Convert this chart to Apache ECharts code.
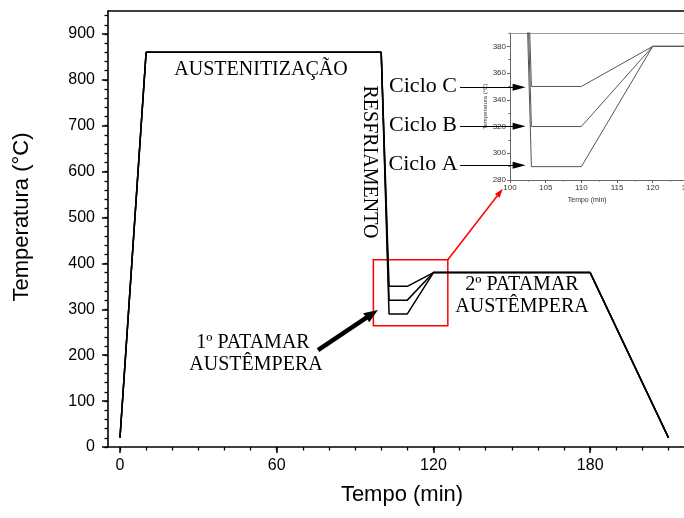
<!DOCTYPE html>
<html><head><meta charset="utf-8">
<script src="https://cdn.jsdelivr.net/npm/echarts@6/dist/echarts.min.js"></script>
<style>html,body{margin:0;padding:0;background:#fff}#c{width:684px;height:518px}</style>
</head><body><div id="c"></div>
<script>
// ---- data (time in minutes, temperature in °C) ----
const timeMin    = [0, 10, 100, 103, 110, 120, 180, 210];
const tempCicloA = [20, 860, 860, 290, 290, 380, 380, 20];
const tempCicloB = [20, 860, 860, 320, 320, 380, 380, 20];
const tempCicloC = [20, 860, 860, 350, 350, 380, 380, 20];

// ---- tick labels ----
const xMajorMain  = [0, 60, 120, 180];
const xMinorMain  = [0, 10, 20, 30, 40, 50, 60, 70, 80, 90, 100, 110, 120, 130, 140, 150, 160, 170, 180, 190, 200, 210, 220];
const yMajorMain  = [0, 100, 200, 300, 400, 500, 600, 700, 800, 900];
const yMinorMain  = [0, 20, 40, 60, 80, 100, 120, 140, 160, 180, 200, 220, 240, 260, 280, 300, 320, 340, 360, 380, 400, 420, 440, 460, 480, 500, 520, 540, 560, 580, 600, 620, 640, 660, 680, 700, 720, 740, 760, 780, 800, 820, 840, 860, 880, 900, 920, 940];
const xMajorInset = [100, 105, 110, 115, 120, 125];
const xMinorInset = [100, 102.5, 105, 107.5, 110, 112.5, 115, 117.5, 120, 122.5, 125];
const yMajorInset = [280, 300, 320, 340, 360, 380];
const yMinorInset = [280, 290, 300, 310, 320, 330, 340, 350, 360, 370, 380, 390];

// ---- annotations (data coordinates of the main chart) ----
const zoomBox      = [[97, 408], [125.5, 264]];
const zoomArrow    = [[125.5, 408], [145.5, 555]];
const patamarArrow = [[75.8, 211], [96.5, 290]];
const cicloArrowsT = [614, 699, 784];
const cicloArrowX  = [130.2, 152.8];

const pts = t => timeMin.map((x, i) => [x, t[i]]);
const serif = '"Liberation Serif", "Times New Roman", serif';
const sans = '"Liberation Sans", Arial, sans-serif';

const chart = echarts.init(document.getElementById('c'), null, {renderer: 'canvas'});

const mainLine = {type: 'line', xAxisIndex: 0, yAxisIndex: 0, symbol: 'none', silent: true,
  lineStyle: {color: '#000', width: 1.5}, animation: false, z: 3};
const insetLine = {type: 'line', xAxisIndex: 3, yAxisIndex: 2, symbol: 'none', silent: true, clip: true,
  lineStyle: {color: '#555', width: 1}, animation: false, z: 3};

const option = {
  animation: false,
  backgroundColor: '#fff',
  grid: [
    {left: 108, top: 11, width: 612, height: 436, outerBoundsMode: 'none', containLabel: false},
    {left: 510, top: 33, width: 178.4, height: 147, outerBoundsMode: 'none', containLabel: false}
  ],
  xAxis: [
    {gridIndex: 0, type: 'value', min: -4.59, max: 229.7, position: 'bottom',
     axisLine: {onZero: false, lineStyle: {color: '#000', width: 1.6}},
     axisTick: {customValues: xMajorMain, length: 6, lineStyle: {color: '#000', width: 1.5}},
     axisLabel: {customValues: xMajorMain, margin: 11, color: '#000', fontSize: 16, fontFamily: sans},
     splitLine: {show: false},
     name: 'Tempo (min)', nameLocation: 'middle', nameGap: 37,
     nameTextStyle: {color: '#000', fontSize: 22, fontFamily: sans, padding: [0, 24, 0, 0]}},
    {gridIndex: 0, type: 'value', min: -4.59, max: 229.7, position: 'bottom',
     axisLine: {show: false, onZero: false},
     axisTick: {customValues: xMinorMain, length: 3.5, lineStyle: {color: '#000', width: 1.3}},
     axisLabel: {show: false}, splitLine: {show: false}},
    {gridIndex: 0, type: 'value', min: -4.59, max: 229.7, position: 'top',
     axisLine: {onZero: false, lineStyle: {color: '#000', width: 1.6}},
     axisTick: {show: false}, axisLabel: {show: false}, splitLine: {show: false}},
    {gridIndex: 1, type: 'value', min: 100, max: 125, position: 'bottom',
     axisLine: {onZero: false, lineStyle: {color: '#666', width: 1}},
     axisTick: {customValues: xMajorInset, length: 3, lineStyle: {color: '#666', width: 1}},
     axisLabel: {customValues: xMajorInset, margin: 4, color: '#333', fontSize: 8, fontFamily: sans},
     splitLine: {show: false},
     name: 'Tempo (min)', nameLocation: 'middle', nameGap: 17,
     nameTextStyle: {color: '#333', fontSize: 7, fontFamily: sans, padding: [0, 24, 0, 0]}},
    {gridIndex: 1, type: 'value', min: 100, max: 125, position: 'bottom',
     axisLine: {show: false, onZero: false},
     axisTick: {customValues: xMinorInset, length: 1.5, lineStyle: {color: '#666', width: 1}},
     axisLabel: {show: false}, splitLine: {show: false}},
    {gridIndex: 1, type: 'value', min: 100, max: 125, position: 'top',
     axisLine: {onZero: false, lineStyle: {color: '#999', width: 1}},
     axisTick: {show: false}, axisLabel: {show: false}, splitLine: {show: false}}
  ],
  yAxis: [
    {gridIndex: 0, type: 'value', min: 0, max: 950, position: 'left',
     axisLine: {onZero: false, lineStyle: {color: '#000', width: 1.6}},
     axisTick: {customValues: yMajorMain, length: 6, lineStyle: {color: '#000', width: 1.5}},
     axisLabel: {customValues: yMajorMain, margin: 13, color: '#000', fontSize: 16, fontFamily: sans},
     splitLine: {show: false},
     name: 'Temperatura (°C)', nameLocation: 'middle', nameGap: 75,
     nameTextStyle: {color: '#000', fontSize: 22, fontFamily: sans, padding: [0, 0, 0, 24]}},
    {gridIndex: 0, type: 'value', min: 0, max: 950, position: 'left',
     axisLine: {show: false, onZero: false},
     axisTick: {customValues: yMinorMain, length: 3.5, lineStyle: {color: '#000', width: 1.3}},
     axisLabel: {show: false}, splitLine: {show: false}},
    {gridIndex: 1, type: 'value', min: 280, max: 390, position: 'left',
     axisLine: {onZero: false, lineStyle: {color: '#666', width: 1}},
     axisTick: {customValues: yMajorInset, length: 3, lineStyle: {color: '#666', width: 1}},
     axisLabel: {customValues: yMajorInset, margin: 4, color: '#333', fontSize: 8, fontFamily: sans},
     splitLine: {show: false},
     name: 'Temperatura (°C)', nameLocation: 'middle', nameGap: 20,
     nameTextStyle: {color: '#333', fontSize: 6, fontFamily: sans}},
    {gridIndex: 1, type: 'value', min: 280, max: 390, position: 'left',
     axisLine: {show: false, onZero: false},
     axisTick: {customValues: yMinorInset, length: 1.5, lineStyle: {color: '#666', width: 1}},
     axisLabel: {show: false}, splitLine: {show: false}}
  ],
  series: [
    Object.assign({}, mainLine, {name: 'Ciclo A', data: pts(tempCicloA),
      markArea: {silent: true, itemStyle: {color: 'rgba(0,0,0,0)', borderColor: '#f00', borderWidth: 1.5},
        data: [[{coord: zoomBox[0]}, {coord: zoomBox[1]}]]},
      markLine: {silent: true, symbol: ['none', 'triangle'], symbolSize: [6, 9], label: {show: false},
        lineStyle: {color: '#f00', width: 1.5, type: 'solid'},
        data: [[{coord: zoomArrow[0]}, {coord: zoomArrow[1]}]]}}),
    Object.assign({}, mainLine, {name: 'Ciclo B', data: pts(tempCicloB),
      markLine: {silent: true, symbol: ['none', 'triangle'], symbolSize: [11, 14], label: {show: false},
        lineStyle: {color: '#000', width: 4.5, type: 'solid'},
        data: [[{coord: patamarArrow[0]}, {coord: patamarArrow[1]}]]}}),
    Object.assign({}, mainLine, {name: 'Ciclo C', data: pts(tempCicloC),
      markLine: {silent: true, symbol: ['none', 'triangle'], symbolSize: [7, 13], label: {show: false},
        lineStyle: {color: '#000', width: 1, type: 'solid'},
        data: cicloArrowsT.map(t => [{coord: [cicloArrowX[0], t]}, {coord: [cicloArrowX[1], t]}])}}),
    Object.assign({}, insetLine, {name: 'Ciclo A (detalhe)', data: pts(tempCicloA)}),
    Object.assign({}, insetLine, {name: 'Ciclo B (detalhe)', data: pts(tempCicloB)}),
    Object.assign({}, insetLine, {name: 'Ciclo C (detalhe)', data: pts(tempCicloC)})
  ],
  graphic: [
    {type: 'text', x: 261, y: 70, style: {text: 'AUSTENITIZAÇÃO', font: '20px ' + serif, fill: '#000', align: 'center', verticalAlign: 'middle'}},
    {type: 'text', x: 369, y: 162, rotation: -Math.PI / 2, style: {text: 'RESFRIAMENTO', font: '20px ' + serif, fill: '#000', align: 'center', verticalAlign: 'middle'}},
    {type: 'text', x: 423, y: 86, style: {text: 'Ciclo C', font: '22px ' + serif, fill: '#000', align: 'center', verticalAlign: 'middle'}},
    {type: 'text', x: 423, y: 125, style: {text: 'Ciclo B', font: '22px ' + serif, fill: '#000', align: 'center', verticalAlign: 'middle'}},
    {type: 'text', x: 423, y: 164, style: {text: 'Ciclo A', font: '22px ' + serif, fill: '#000', align: 'center', verticalAlign: 'middle'}},
    {type: 'text', x: 522, y: 285, style: {text: '2º PATAMAR', font: '20px ' + serif, fill: '#000', align: 'center', verticalAlign: 'middle'}},
    {type: 'text', x: 522, y: 307, style: {text: 'AUSTÊMPERA', font: '20px ' + serif, fill: '#000', align: 'center', verticalAlign: 'middle'}},
    {type: 'text', x: 253, y: 343, style: {text: '1º PATAMAR', font: '20px ' + serif, fill: '#000', align: 'center', verticalAlign: 'middle'}},
    {type: 'text', x: 256, y: 365, style: {text: 'AUSTÊMPERA', font: '20px ' + serif, fill: '#000', align: 'center', verticalAlign: 'middle'}}
  ]
};
chart.setOption(option);
</script>
</body></html>
